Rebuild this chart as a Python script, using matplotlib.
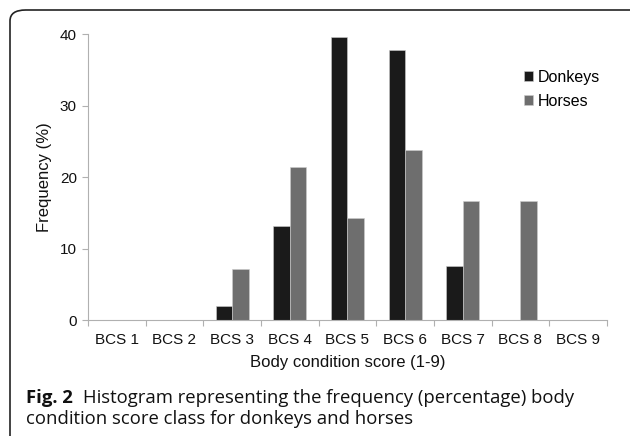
import numpy as np
import matplotlib
matplotlib.use("Agg")
import matplotlib.pyplot as plt
from matplotlib.patches import FancyBboxPatch

# data (percent)
categories = ["BCS 1", "BCS 2", "BCS 3", "BCS 4", "BCS 5", "BCS 6", "BCS 7", "BCS 8", "BCS 9"]
donkeys = [0, 0, 1.9, 13.2, 39.6, 37.7, 7.5, 0, 0]
horses = [0, 0, 7.1, 21.4, 14.3, 23.8, 16.7, 16.7, 0]
y_ticks = [0, 10, 20, 30, 40]

W, H = 630, 436
fig = plt.figure(figsize=(W / 100, H / 100), dpi=100)
plt.rcParams["font.family"] = ["Liberation Sans", "DejaVu Sans"]

# rounded frame around the figure panel
frame = FancyBboxPatch((10 / W, -20 / H), 640 / W, 446 / H,
                       boxstyle="round,pad=0,rounding_size=0.025",
                       transform=fig.transFigure, fill=False,
                       edgecolor="#222222", linewidth=1.2)
fig.patches.append(frame)

ax = fig.add_axes([88 / W, 1 - 320 / H, 519 / W, 286 / H])

x = np.arange(len(categories))
bw = 0.285
ax.bar(x - bw / 2, donkeys, bw, color="#1a1a1a", edgecolor="#cccccc", linewidth=0.4, label="Donkeys")
ax.bar(x + bw / 2, horses, bw, color="#6e6e6e", edgecolor="#cccccc", linewidth=0.4, label="Horses")

ax.set_xlim(-0.5, len(categories) - 0.5)
ax.set_ylim(0, 40)
ax.set_yticks(y_ticks)
ax.set_xticks(np.arange(len(categories) + 1) - 0.5, minor=False)
ax.set_xticklabels([])
ax.set_xticks(x, minor=True)
ax.set_xticklabels(categories, minor=True, fontsize=11, color="#111111")
ax.tick_params(axis="x", which="major", length=4, color="#b0b0b0", width=0.8)
ax.tick_params(axis="x", which="minor", length=0, pad=9)
ax.tick_params(axis="y", length=4, color="#b0b0b0", width=0.8, labelsize=11,
               labelcolor="#111111", pad=4)

for s in ["top", "right"]:
    ax.spines[s].set_visible(False)
for s in ["left", "bottom"]:
    ax.spines[s].set_color("#b0b0b0")
    ax.spines[s].set_linewidth(0.8)

ax.set_xlabel("Body condition score (1-9)", fontsize=12, color="#111111", labelpad=6)
ax.set_ylabel("Frequency (%)", fontsize=12, color="#111111", labelpad=6)

leg = ax.legend(loc="upper left", bbox_to_anchor=(0.812, 0.925), frameon=False,
                fontsize=11.5, handlelength=0.6, handleheight=0.6,
                handletextpad=0.3, labelspacing=0.55)

# caption
cap_font = ["Open Sans", "DejaVu Sans"]
fig.text(26 / W, 1 - 398 / H, "Fig. 2", fontsize=13.3, fontweight="bold",
         family=cap_font, va="center", color="#111111")
fig.text(83 / W, 1 - 398 / H,
         "Histogram representing the frequency (percentage) body",
         fontsize=13.3, family=cap_font, va="center", color="#111111")
fig.text(26 / W, 1 - 419 / H, "condition score class for donkeys and horses",
         fontsize=13.3, family=cap_font, va="center", color="#111111")

fig.savefig("out.png", dpi=100)
